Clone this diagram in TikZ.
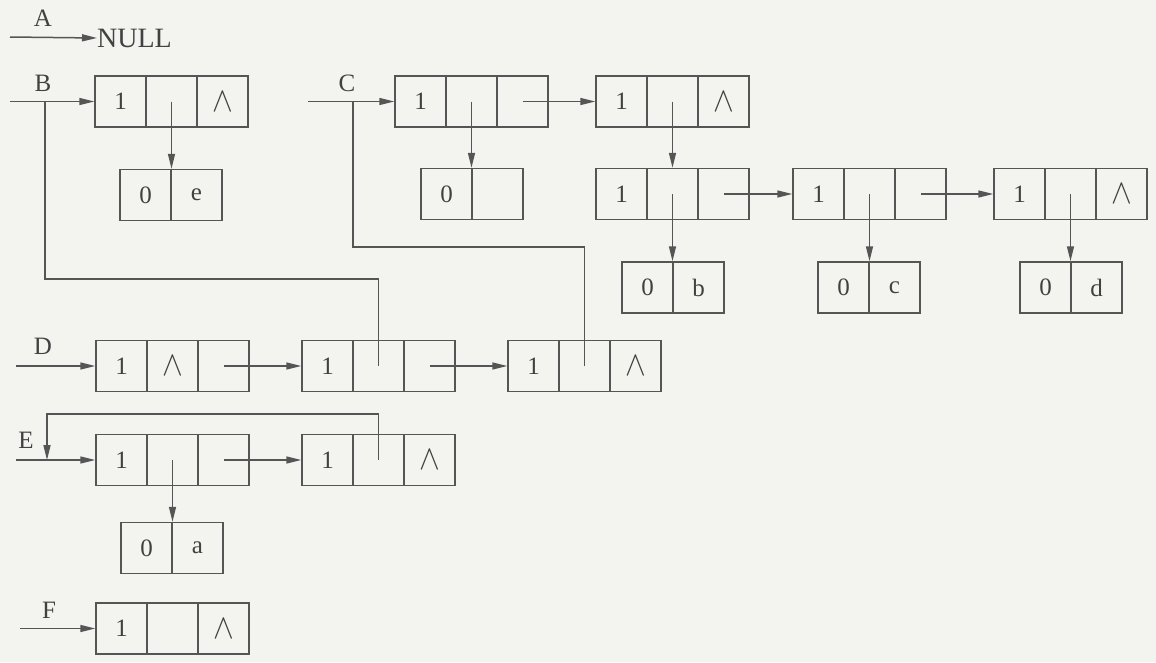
\documentclass[tikz,border=0pt]{standalone}
\usepackage{fontspec}
\usepackage{graphicx}
\setmainfont{Liberation Serif}
\usetikzlibrary{arrows.meta}
\definecolor{ink}{RGB}{85,85,85}
\definecolor{txt}{RGB}{65,65,65}
\definecolor{bg}{RGB}{243,243,240}
\tikzset{
  cell/.style={draw=ink, line width=1.5pt, minimum width=51pt, minimum height=51pt,
    inner sep=0pt, text=txt, font=\fontsize{25}{25}\selectfont},
  lbl/.style={text=txt, font=\fontsize{25}{25}\selectfont, inner sep=0pt},
  link/.style={draw=ink, line width=1.5pt},
  arr/.style={link, -{Triangle[length=15pt,width=7pt]}},
}
\newcommand\wdg{\scalebox{1.25}[1.4]{$\wedge$}}
% list node: name, left x, centre y, c1, c2, c3
\newcommand\lnode[6]{%
  \node[cell] (#1-1) at (#2+25.5,#3) {#4};
  \node[cell] (#1-2) at (#2+76.5,#3) {#5};
  \node[cell] (#1-3) at (#2+127.5,#3) {#6};}
% atom node: name, left x, centre y, c1, c2
\newcommand\anode[5]{%
  \node[cell] (#1-1) at (#2+25.5,#3) {#4};
  \node[cell] (#1-2) at (#2+76.5,#3) {#5};}
\begin{document}
\begin{tikzpicture}[x=1pt,y=-1pt]
\fill[bg] (0,0) rectangle (1156,662);
\useasboundingbox (0,0) rectangle (1156,662);

% ---- A ----
\node[lbl] (la) at (43,18) {A};
\coordinate (a0) at (10,37);
\node[lbl, anchor=west, font=\fontsize{28}{28}\selectfont] (null) at (97,38) {NULL};
\draw[arr] (a0) -- (null.west);

% ---- B ----
\node[lbl] (lb) at (43,83) {B};
\lnode{B}{95}{101.5}{1}{}{\wdg}
\anode{Ae}{120}{195}{0}{e}
\coordinate (b0) at (10,101.5);
\coordinate (bj) at (45,101.5);
\draw[arr] (b0) -- (B-1.west);
\draw[arr] (B-2.center) -- (B-2.center |- Ae-1.north);

% ---- C ----
\node[lbl] (lc) at (347,83) {C};
\coordinate (c0) at (308,101.5);
\coordinate (cj) at (353,101.5);
\lnode{C1}{395}{101.5}{1}{}{}
\lnode{C2}{596}{101.5}{1}{}{\wdg}
\anode{Ax}{421}{194}{0}{}
\lnode{C3}{596}{194}{1}{}{}
\lnode{C4}{793}{194}{1}{}{}
\lnode{C5}{994}{194}{1}{}{\wdg}
\anode{Ab}{622}{287.5}{0}{b}
\anode{Ac}{818}{287.5}{0}{c}
\anode{Ad}{1020}{287.5}{0}{d}
\draw[arr] (c0) -- (C1-1.west);
\draw[arr] (C1-3.center) -- (C2-1.west);
\draw[arr] (C1-2.center) -- (C1-2.center |- Ax-1.north);
\draw[arr] (C2-2.center) -- (C3-2.north);
\draw[arr] (C3-2.center) -- (C3-2.center |- Ab-1.north);
\draw[arr] (C3-3.center) -- (C4-1.west);
\draw[arr] (C4-2.center) -- (C4-2.center |- Ac-1.north);
\draw[arr] (C4-3.center) -- (C5-1.west);
\draw[arr] (C5-2.center) -- (C5-2.center |- Ad-1.north);

% ---- D ----
\node[lbl] (ld) at (43,346) {D};
\coordinate (d0) at (16,366);
\lnode{D1}{96}{366}{1}{\wdg}{}
\lnode{D2}{302}{366}{1}{}{}
\lnode{D3}{508}{366}{1}{}{\wdg}
\draw[arr] (d0) -- (D1-1.west);
\draw[arr] (D1-3.center) -- (D2-1.west);
\draw[arr] (D2-3.center) -- (D3-1.west);
\coordinate (by) at (0,279);
\coordinate (cy) at (0,247);
\draw[link] (D2-2.center) |- (bj |- by) -- (bj);
\draw[link] (D3-2.center) |- (cj |- cy) -- (cj);

% ---- E ----
\node[lbl] (le) at (26,440) {E};
\coordinate (e0) at (16,460);
\coordinate (ej) at (47,460);
\coordinate (ey) at (0,414);
\lnode{E1}{96}{460}{1}{}{}
\lnode{E2}{302}{460}{1}{}{\wdg}
\anode{Aa}{121}{548}{0}{a}
\draw[arr] (e0) -- (E1-1.west);
\draw[arr] (E1-3.center) -- (E2-1.west);
\draw[arr] (E1-2.center) -- (E1-2.center |- Aa-1.north);
\draw[arr] (E2-2.center) |- (ej |- ey) -- (ej);

% ---- F ----
\node[lbl] (lf) at (49,610) {F};
\coordinate (f0) at (20,628.5);
\lnode{F}{96}{628.5}{1}{}{\wdg}
\draw[arr] (f0) -- (F-1.west);
\end{tikzpicture}
\end{document}
